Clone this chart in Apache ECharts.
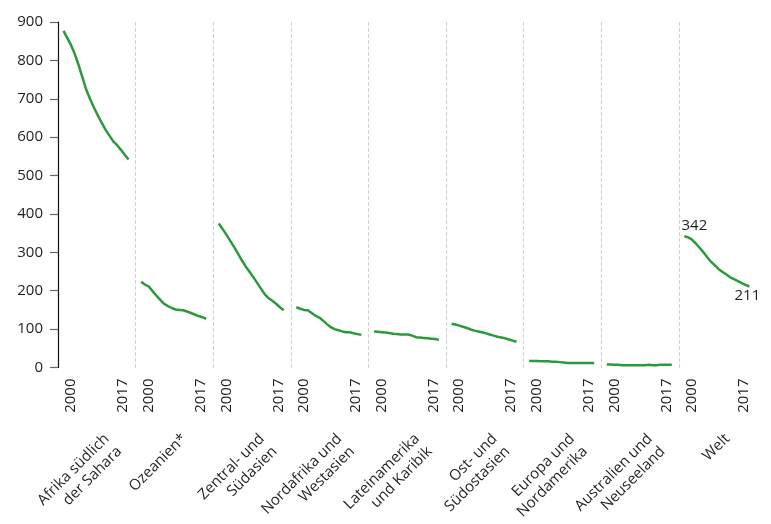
<!DOCTYPE html>
<html>
<head>
<meta charset="utf-8">
<script src="https://cdn.jsdelivr.net/npm/echarts@6/dist/echarts.min.js"></script>
<style>
  html, body { margin: 0; padding: 0; background: #fff; }
  #chart { width: 771px; height: 524px; }
</style>
</head>
<body>
<div id="chart"></div>
<script>
  // Regionen (Achsenbeschriftung unten), Zeilen getrennt
  var regions = [
    ['Afrika südlich', 'der Sahara'],
    ['Ozeanien*'],
    ['Zentral- und', 'Südasien'],
    ['Nordafrika und', 'Westasien'],
    ['Lateinamerika', 'und Karibik'],
    ['Ost- und', 'Südostasien'],
    ['Europa und', 'Nordamerika'],
    ['Australien und', 'Neuseeland'],
    ['Welt']
  ];
  var years = [2000, 2001, 2002, 2003, 2004, 2005, 2006, 2007, 2008,
               2009, 2010, 2011, 2012, 2013, 2014, 2015, 2016, 2017];
  var yearTicks = [2000, 2017];
  var yTicks = [0, 100, 200, 300, 400, 500, 600, 700, 800, 900];

  // Werte je Region, 2000 - 2017
  var afrika     = [877, 858, 839, 815, 786, 754, 722, 698, 676, 656, 637, 619, 604, 589, 579, 567, 554, 542];
  var ozeanien   = [223, 216, 211, 199, 187, 176, 166, 160, 155, 151, 150, 149, 146, 142, 138, 134, 131, 127];
  var suedasien  = [375, 361, 346, 330, 314, 297, 280, 264, 250, 236, 221, 206, 191, 181, 174, 166, 157, 149];
  var westasien  = [157, 153, 150, 149, 142, 135, 130, 122, 113, 105, 100, 97, 94, 92, 92, 89, 87, 85];
  var karibik    = [94, 93, 92, 91, 90, 88, 87, 86, 86, 86, 83, 79, 78, 77, 76, 75, 74, 72];
  var ostasien   = [114, 112, 109, 106, 103, 99, 96, 94, 92, 89, 86, 83, 80, 78, 76, 73, 70, 67];
  var europa     = [17, 17, 17, 16, 16, 16, 15, 15, 14, 13, 12, 12, 12, 12, 12, 12, 12, 12];
  var australien = [8, 8, 7, 7, 6, 6, 6, 6, 6, 6, 6, 7, 6, 6, 7, 7, 7, 7];
  var welt       = [342, 339, 333, 323, 312, 300, 287, 275, 266, 256, 249, 242, 235, 230, 225, 220, 215, 211];

  var allValues = [afrika, ozeanien, suedasien, westasien, karibik, ostasien, europa, australien, welt];

  var green = '#2b9a3d';
  var textColor = '#1f1f1f';
  var font = 'Open Sans';
  var panelLeft = 58;
  var panelWidth = 77.6;

  var grids = [], xAxes = [], yAxes = [], series = [];

  regions.forEach(function (lines, i) {
    grids.push({
      left: panelLeft + panelWidth * i,
      width: panelWidth,
      top: 22,
      height: 345.5,
      containLabel: false,
      outerBoundsMode: 'none'
    });

    // erste Zeile hoeher, damit der Text schraeg nach rechts unten rueckt
    var name = lines.map(function (l, k) {
      return (k === 0 ? '{f|' : '{s|') + l + '}';
    }).join('\n');

    xAxes.push({
      gridIndex: i,
      type: 'value',
      min: 1998.55,
      max: 2018.84,
      axisLine: { show: false },
      axisTick: { show: false },
      splitLine: { show: false },
      axisLabel: {
        customValues: yearTicks,
        rotate: 90,
        margin: 11,
        formatter: function (v) {
          return v === 2000 ? '{a|2000}' : '{b|2017}';
        },
        rich: {
          a: { fontFamily: font, fontSize: 15, color: textColor, padding: [15, 0, 0, 0] },
          b: { fontFamily: font, fontSize: 15, color: textColor, padding: [0, 0, 11, 0] }
        }
      },
      name: name,
      nameLocation: 'middle',
      nameRotate: 45,
      nameGap: 59,
      nameMoveOverlap: false,
      nameTextStyle: {
        align: 'right',
        verticalAlign: 'top',
        fontFamily: font,
        fontSize: 15,
        color: textColor,
        rich: {
          f: { fontFamily: font, fontSize: 15, color: textColor, lineHeight: 28 },
          s: { fontFamily: font, fontSize: 15, color: textColor, lineHeight: 8 }
        }
      }
    });

    var first = i === 0;
    yAxes.push({
      gridIndex: i,
      type: 'value',
      min: 0,
      max: 900,
      interval: 100,
      axisLine: first
        ? { show: true, lineStyle: { color: '#111', width: 1.2 } }
        : { show: true, lineStyle: { color: '#cfcfcf', type: [3, 3], width: 1 } },
      axisTick: first
        ? { show: true, length: 8, lineStyle: { color: '#666', width: 1.2 } }
        : { show: false },
      axisLabel: first
        ? { show: true, margin: 15, fontFamily: font, fontSize: 15, color: textColor,
            customValues: yTicks }
        : { show: false },
      splitLine: { show: false }
    });

    var vals = allValues[i];
    series.push({
      type: 'line',
      xAxisIndex: i,
      yAxisIndex: i,
      data: years.map(function (y, k) { return [y, vals[k]]; }),
      showSymbol: false,
      symbol: 'none',
      silent: true,
      lineStyle: { color: green, width: 2.5 },
      animation: false
    });
  });

  // Start- und Endwert der Weltkurve beschriften
  var w = regions.length - 1;
  series[w].markPoint = {
    silent: true,
    symbol: 'circle',
    symbolSize: 1,
    itemStyle: { color: 'rgba(0,0,0,0)' },
    label: { show: true, fontFamily: font, fontSize: 15, color: textColor, formatter: '{c}' },
    data: [
      { coord: [years[0], welt[0]], value: welt[0],
        label: { position: 'top', distance: 2, offset: [10, 0] } },
      { coord: [years[years.length - 1], welt[welt.length - 1]], value: welt[welt.length - 1],
        label: { position: 'bottom', distance: 1, offset: [-2, 0] } }
    ]
  };

  var chart = echarts.init(document.getElementById('chart'));
  chart.setOption({
    backgroundColor: '#fff',
    animation: false,
    grid: grids,
    xAxis: xAxes,
    yAxis: yAxes,
    series: series
  });
</script>
</body>
</html>
